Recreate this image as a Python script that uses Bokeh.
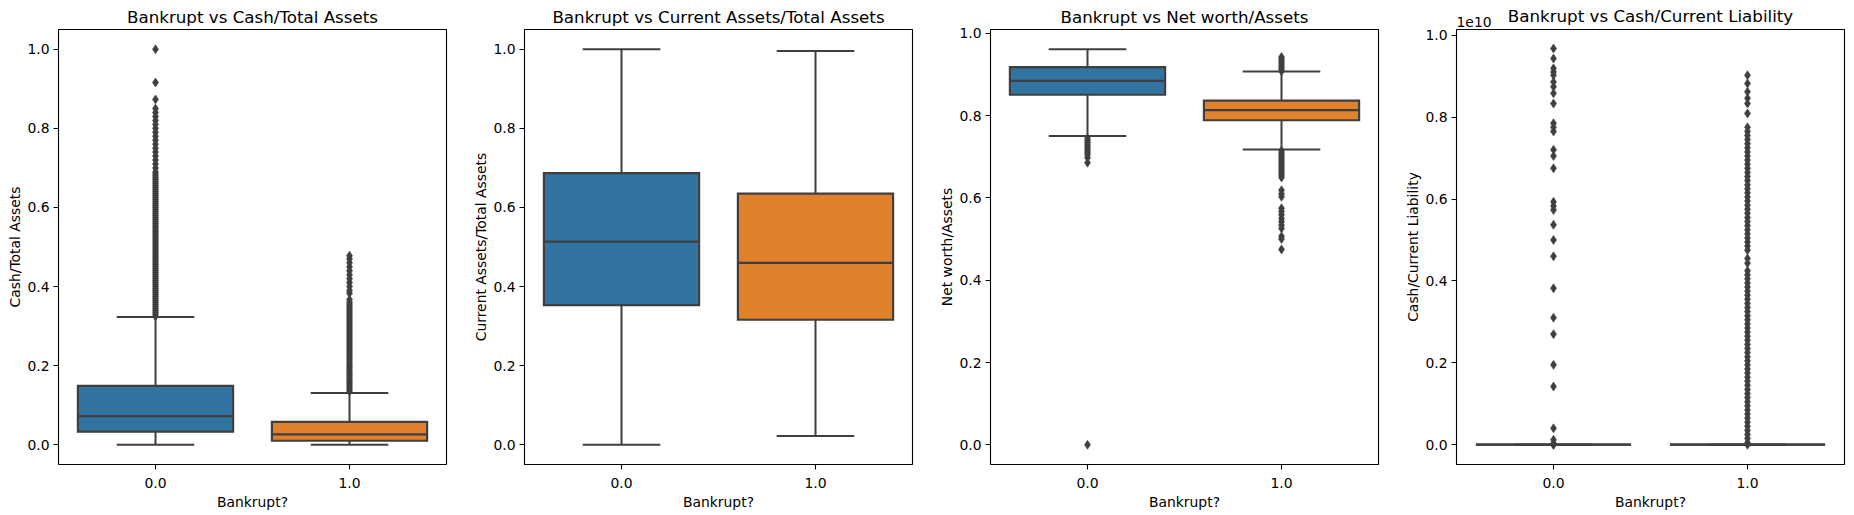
from bokeh.plotting import figure
from bokeh.layouts import row
from bokeh.models import FixedTicker, PrintfTickFormatter, CustomJSTickFormatter, Range1d, ColumnDataSource, Title
from bokeh.embed import file_html
from bokeh.resources import INLINE

# ---------------- data ----------------
categories = ["0.0", "1.0"]
x_label = "Bankrupt?"
box_colors = ["#3274a1", "#e1812c"]

# Panel 1: Cash/Total Assets
cta_q1 = [0.033, 0.010]
cta_med = [0.0725, 0.026]
cta_q3 = [0.149, 0.058]
cta_lo = [0.0, 0.0]
cta_hi = [0.3227, 0.1306]
cta_out0 = [1.0, 0.916, 0.873, 0.85, 0.84, 0.83, 0.82, 0.81, 0.80, 0.79, 0.78, 0.77, 0.76, 0.75,
            0.74, 0.73, 0.72, 0.71, 0.70, 0.69, 0.685, 0.68, 0.675, 0.67, 0.665, 0.66, 0.655, 0.65,
            0.645, 0.64, 0.635, 0.63, 0.625, 0.62, 0.615, 0.61, 0.605, 0.60, 0.595, 0.59, 0.585,
            0.58, 0.575, 0.57, 0.565, 0.56, 0.555, 0.55, 0.545, 0.54, 0.535, 0.53, 0.525, 0.52,
            0.515, 0.51, 0.505, 0.50, 0.495, 0.49, 0.485, 0.48, 0.475, 0.47, 0.465, 0.46, 0.455,
            0.45, 0.445, 0.44, 0.435, 0.43, 0.425, 0.42, 0.415, 0.41, 0.405, 0.40, 0.395, 0.39,
            0.385, 0.38, 0.375, 0.37, 0.365, 0.36, 0.355, 0.35, 0.345, 0.34, 0.335, 0.33, 0.325]
cta_out1 = [0.478, 0.47, 0.46, 0.45, 0.44, 0.43, 0.42, 0.41, 0.40, 0.39, 0.383, 0.367, 0.36,
            0.355, 0.35, 0.345, 0.34, 0.335, 0.33, 0.325, 0.32, 0.315, 0.31, 0.305, 0.30, 0.295,
            0.29, 0.285, 0.28, 0.275, 0.27, 0.265, 0.26, 0.255, 0.25, 0.245, 0.24, 0.235, 0.23,
            0.225, 0.22, 0.215, 0.21, 0.205, 0.20, 0.195, 0.19, 0.185, 0.18, 0.175, 0.17, 0.165,
            0.16, 0.155, 0.15, 0.145, 0.14, 0.135]

# Panel 2: Current Assets/Total Assets
cata_q1 = [0.353, 0.316]
cata_med = [0.5138, 0.46]
cata_q3 = [0.6866, 0.635]
cata_lo = [0.0, 0.022]
cata_hi = [1.0, 0.9957]
cata_out0 = []
cata_out1 = []

# Panel 3: Net worth/Assets
nwa_q1 = [0.851, 0.789]
nwa_med = [0.885, 0.8135]
nwa_q3 = [0.918, 0.837]
nwa_lo = [0.7505, 0.718]
nwa_hi = [0.9615, 0.9077]
nwa_out0 = [0.745, 0.74, 0.735, 0.73, 0.725, 0.72, 0.715, 0.71, 0.705, 0.698, 0.686, 0.0]
nwa_out1 = [0.943, 0.938, 0.933, 0.928, 0.923, 0.918, 0.913, 0.908, 0.715, 0.71, 0.705, 0.70,
            0.695, 0.69, 0.685, 0.68, 0.675, 0.67, 0.665, 0.66, 0.655, 0.65, 0.619, 0.61, 0.603,
            0.575, 0.567, 0.559, 0.55, 0.542, 0.534, 0.526, 0.507, 0.50, 0.475]

# Panel 4: Cash/Current Liability (values in units of 1e10)
CCL_UNIT = 1e10
ccl_q1 = [0.0, 0.0]
ccl_med = [0.0, 0.0]
ccl_q3 = [0.0, 0.0]
ccl_lo = [0.0, 0.0]
ccl_hi = [0.0, 0.0]
ccl_out0 = [0.9675, 0.943, 0.919, 0.91, 0.902, 0.886, 0.874, 0.858, 0.833, 0.785, 0.775, 0.765,
            0.72, 0.705, 0.675, 0.593, 0.583, 0.573, 0.537, 0.50, 0.46, 0.382, 0.31, 0.27, 0.195,
            0.142, 0.04, 0.012, 0.003, 0.001, 0.0003, 0.0]
ccl_out1 = [0.902, 0.882, 0.862, 0.846, 0.833, 0.809, 0.775, 0.765, 0.755, 0.745, 0.735, 0.725,
            0.715, 0.705, 0.695, 0.685, 0.675, 0.665, 0.655, 0.645, 0.635, 0.625, 0.615, 0.605,
            0.595, 0.585, 0.575, 0.565, 0.555, 0.545, 0.535, 0.525, 0.515, 0.505, 0.495, 0.485,
            0.475, 0.455, 0.443, 0.425, 0.415, 0.405, 0.395, 0.385, 0.375, 0.365, 0.355, 0.345,
            0.335, 0.325, 0.315, 0.305, 0.295, 0.285, 0.275, 0.265, 0.255, 0.245, 0.235, 0.225,
            0.215, 0.205, 0.195, 0.185, 0.175, 0.165, 0.155, 0.145, 0.135, 0.125, 0.115, 0.105,
            0.095, 0.085, 0.075, 0.065, 0.055, 0.045, 0.035, 0.025, 0.015, 0.005, 0.0]
ccl_offset_text = "1e10"

y_ticks = [0.0, 0.2, 0.4, 0.6, 0.8, 1.0]

# ---------------- style ----------------
FONT = "DejaVu Sans"
LINE = "#3f3f3f"
BOX_W = 0.8
CAP_W = 0.4


def panel(title, ylabel, q1, med, q3, lo, hi, outs, y_range, width, left, scale=1.0):
    p = figure(width=width, height=512, x_range=Range1d(-0.5, 1.5), y_range=Range1d(*y_range),
               output_backend="svg", toolbar_location=None, title=title,
               min_border_left=left, min_border_right=5, min_border_top=29, min_border_bottom=48)
    p.title.text_font = FONT
    p.title.text_font_size = "16.7px"
    p.title.text_font_style = "normal"
    p.title.text_color = "black"
    p.title.align = "center"
    p.title.standoff = 5
    p.grid.visible = False
    p.outline_line_color = "black"
    p.outline_line_width = 1.1
    p.outline_line_alpha = 1.0
    p.background_fill_color = "white"
    p.border_fill_color = "white"

    idx = list(range(len(categories)))
    src = ColumnDataSource(dict(
        x=idx,
        left=[i - BOX_W / 2 for i in idx], right=[i + BOX_W / 2 for i in idx],
        cl=[i - CAP_W / 2 for i in idx], cr=[i + CAP_W / 2 for i in idx],
        q1=[v * scale for v in q1], med=[v * scale for v in med], q3=[v * scale for v in q3],
        lo=[v * scale for v in lo], hi=[v * scale for v in hi], color=box_colors))
    p.segment(x0="x", y0="q3", x1="x", y1="hi", source=src, line_color=LINE, line_width=2)
    p.segment(x0="x", y0="q1", x1="x", y1="lo", source=src, line_color=LINE, line_width=2)
    p.segment(x0="cl", y0="hi", x1="cr", y1="hi", source=src, line_color=LINE, line_width=2)
    p.segment(x0="cl", y0="lo", x1="cr", y1="lo", source=src, line_color=LINE, line_width=2)
    p.quad(left="left", right="right", bottom="q1", top="q3", source=src, fill_color="color",
           line_color=LINE, line_width=2.2, line_join="miter")
    p.segment(x0="left", y0="med", x1="right", y1="med", source=src, line_color=LINE, line_width=2.2)
    for i, o in enumerate(outs):
        if o:
            p.scatter(x=[i] * len(o), y=[v * scale for v in o], marker="diamond", size=9,
                      fill_color=LINE, line_color=LINE, line_width=0.6)

    p.xaxis.ticker = FixedTicker(ticks=idx)
    p.xaxis.major_label_overrides = {i: c for i, c in enumerate(categories)}
    p.xaxis.axis_label = x_label
    p.yaxis.axis_label = ylabel
    p.yaxis.ticker = FixedTicker(ticks=[t * scale for t in y_ticks])
    if scale == 1.0:
        p.yaxis.formatter = PrintfTickFormatter(format="%.1f")
    else:
        p.yaxis.formatter = CustomJSTickFormatter(code="return (tick/%g).toFixed(1);" % scale)
    for ax in (p.xaxis[0], p.yaxis[0]):
        ax.axis_line_color = None
        ax.major_tick_line_color = "black"
        ax.major_tick_line_width = 1.1
        ax.major_tick_out = 5
        ax.major_tick_in = 0
        ax.minor_tick_line_color = None
        ax.major_label_text_font = FONT
        ax.major_label_text_font_size = "13.9px"
        ax.major_label_text_color = "black"
        ax.axis_label_text_font = FONT
        ax.axis_label_text_font_size = "13.9px"
        ax.axis_label_text_font_style = "normal"
        ax.axis_label_text_color = "black"
    p.xaxis.major_label_standoff = 8
    p.xaxis.axis_label_standoff = 3
    p.yaxis.major_label_standoff = 4
    p.yaxis.axis_label_standoff = 1
    return p


p1 = panel("Bankrupt vs Cash/Total Assets", "Cash/Total Assets",
           cta_q1, cta_med, cta_q3, cta_lo, cta_hi, [cta_out0, cta_out1],
           (-0.05, 1.05), 451, 58)
p2 = panel("Bankrupt vs Current Assets/Total Assets", "Current Assets/Total Assets",
           cata_q1, cata_med, cata_q3, cata_lo, cata_hi, [cata_out0, cata_out1],
           (-0.05, 1.05), 466, 73)
p3 = panel("Bankrupt vs Net worth/Assets", "Net worth/Assets",
           nwa_q1, nwa_med, nwa_q3, nwa_lo, nwa_hi, [nwa_out0, nwa_out1],
           (-0.048, 1.0097), 466, 73)
p4 = panel("Bankrupt vs Cash/Current Liability", "Cash/Current Liability",
           ccl_q1, ccl_med, ccl_q3, ccl_lo, ccl_hi, [ccl_out0, ccl_out1],
           (-0.0483 * CCL_UNIT, 1.0139 * CCL_UNIT), 466, 73, scale=CCL_UNIT)
# axis offset text: a second, left-aligned title next to the frame; the main title's
# standoff is adjusted so both share the same row above the frame
p4.add_layout(Title(text=ccl_offset_text, align="left", vertical_align="top", standoff=2.0,
                    text_font=FONT, text_font_size="13.9px", text_font_style="normal",
                    text_color="black"), "above")
p4.title.standoff = -20.2

layout = row(p1, p2, p3, p4)
open("out.html", "w").write(file_html(layout, INLINE))
